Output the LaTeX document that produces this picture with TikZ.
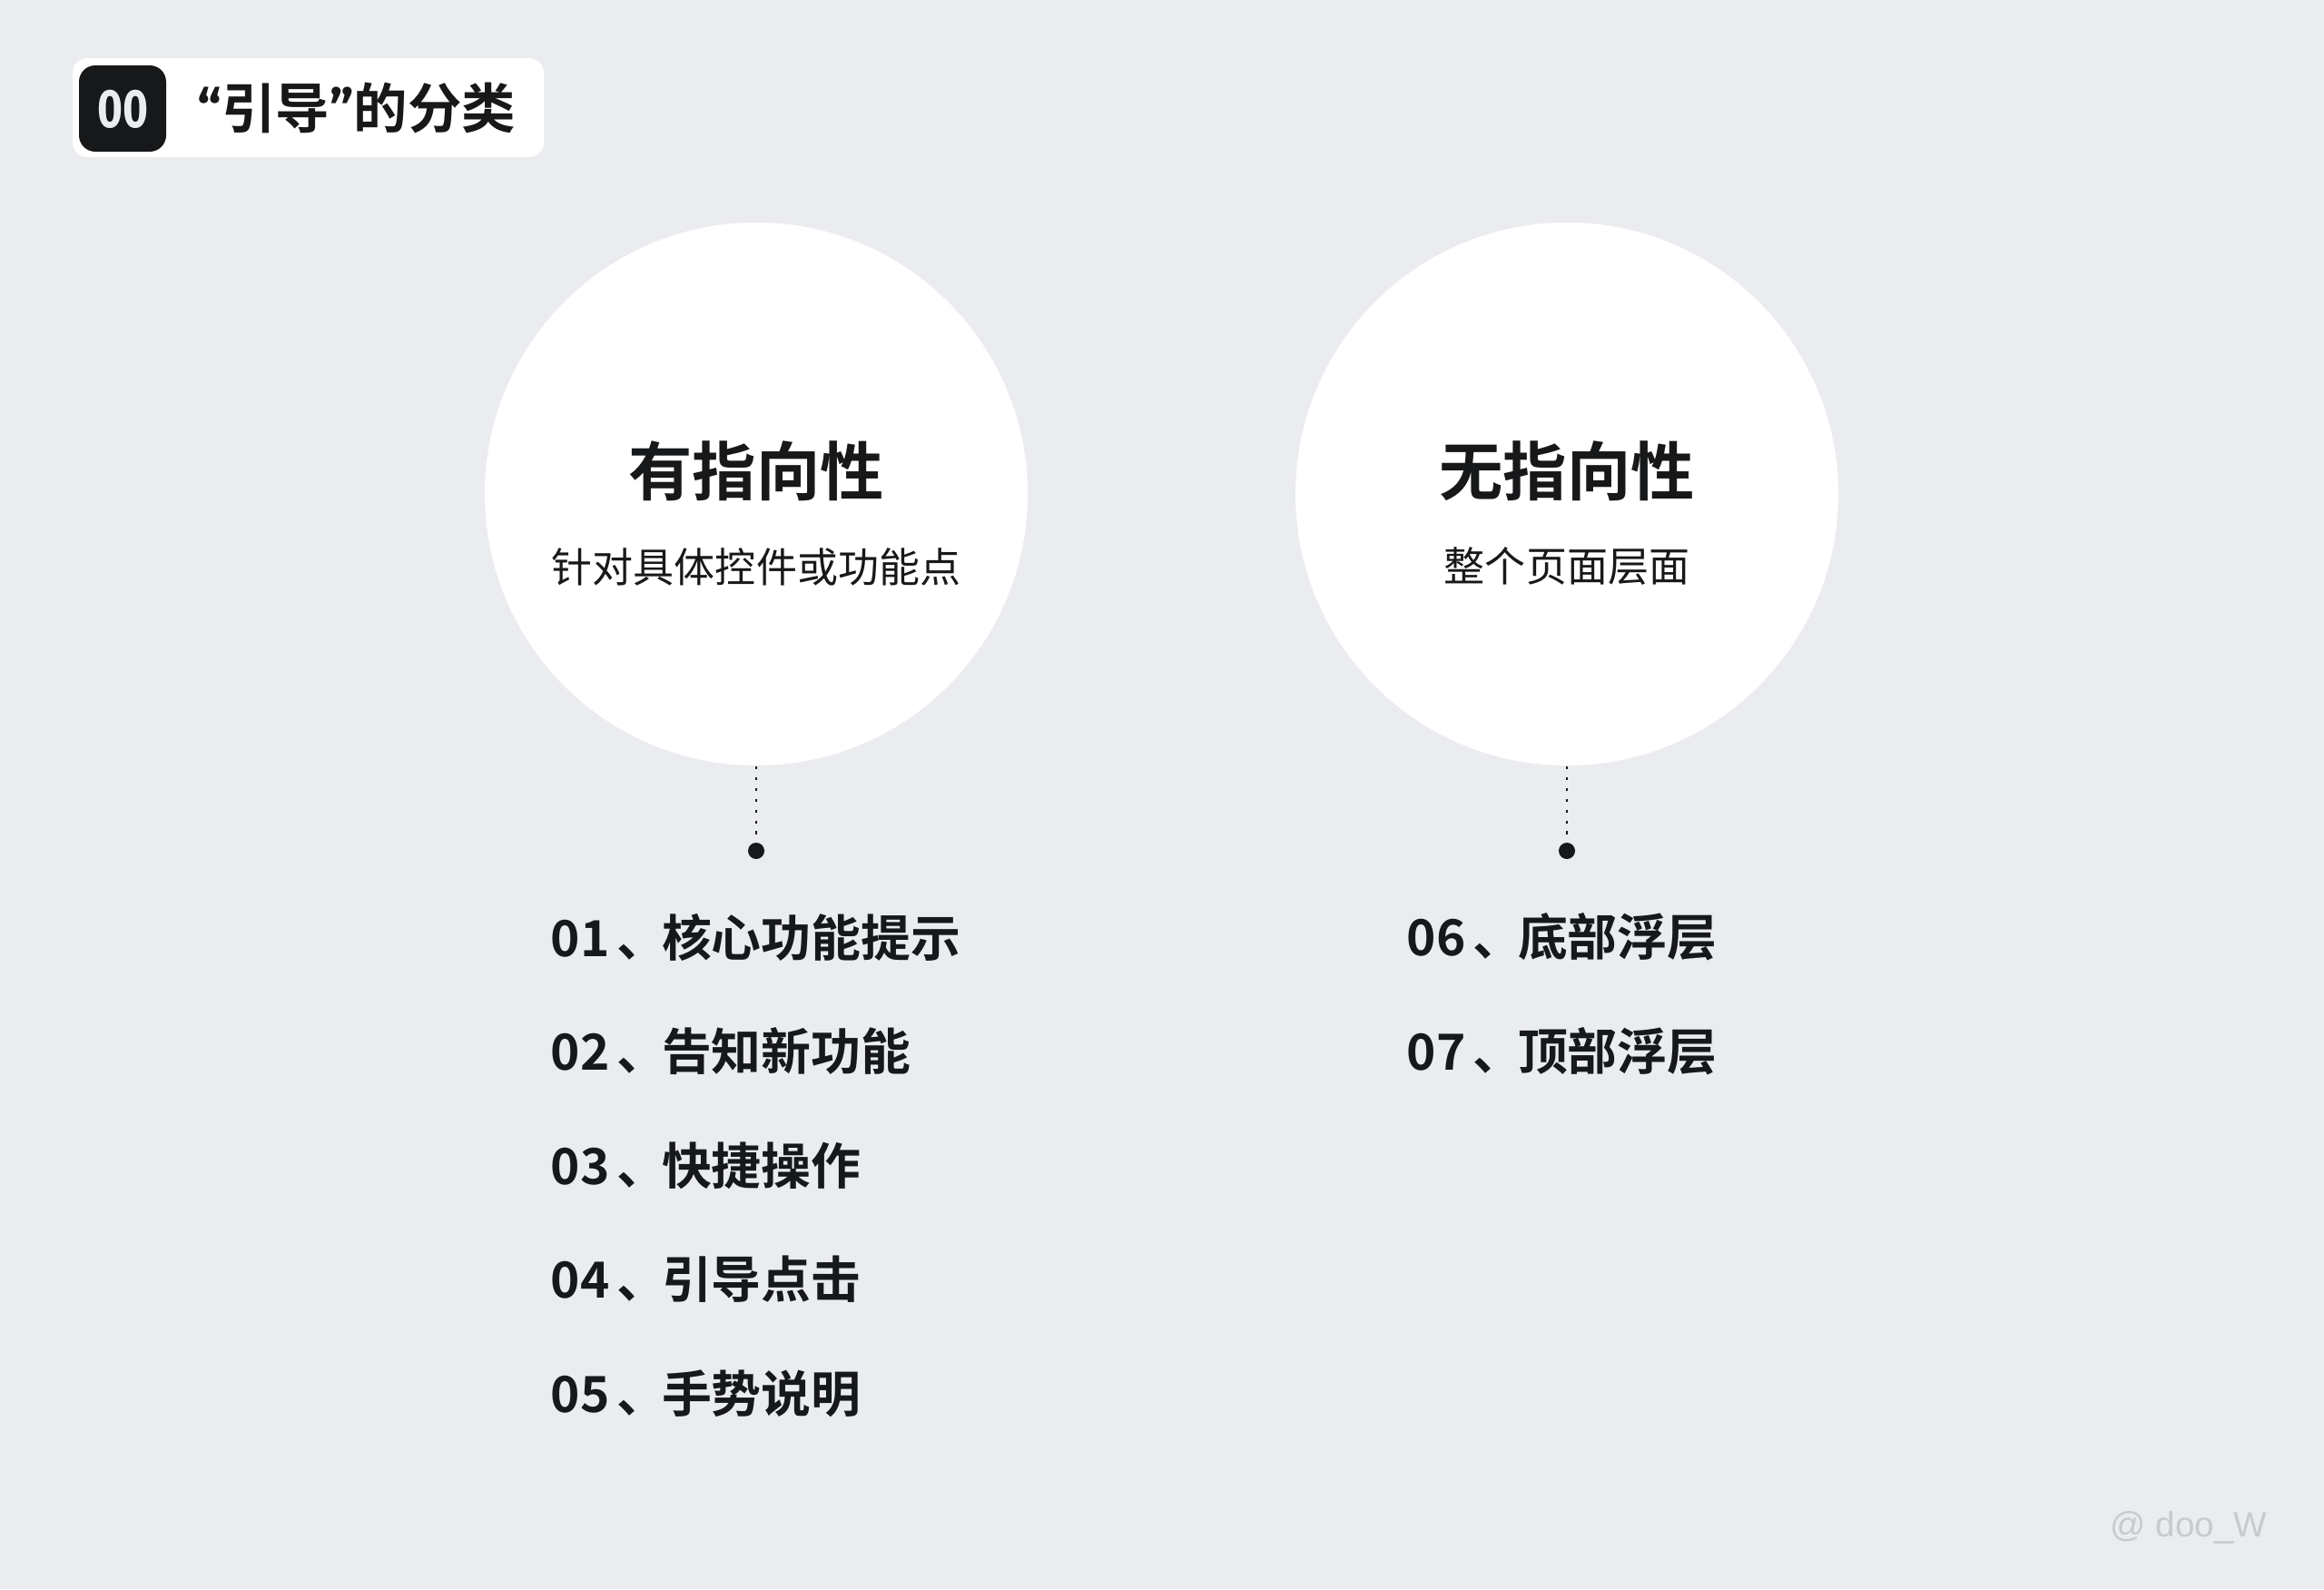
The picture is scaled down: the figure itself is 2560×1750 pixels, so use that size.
\documentclass[tikz,border=0pt]{standalone}
\usepackage{fontspec}
\usepackage{tikz}
\usetikzlibrary{positioning}
\newfontfamily\cjk{Noto Sans CJK SC}
\newfontfamily\cjkbold{Noto Sans CJK SC}[BoldFont={* Bold}]
\newfontfamily\numfont{Fira Sans}
\newfontfamily\markfont{Liberation Sans}
\definecolor{pagebg}{HTML}{EBECF0}
\definecolor{ink}{HTML}{17181A}
\definecolor{faint}{HTML}{C9CACF}
\newcommand{\openq}{{\numfont\bfseries “}}
\newcommand{\closeq}{{\numfont\bfseries ”}}
\tikzset{
  bubble/.style={circle, fill=white, minimum size=598*0.01cm, inner sep=0pt},
  headline/.style={font=\cjkbold\bfseries\fontsize{20}{24}\selectfont, text=ink},
  subline/.style={font=\cjk\fontsize{12.8}{15}\selectfont, text=ink},
  item/.style={font=\cjkbold\bfseries\fontsize{15.6}{19}\selectfont, text=ink, anchor=west, inner sep=0pt},
  pin/.style={circle, fill=ink, minimum size=18*0.01cm, inner sep=0pt},
  leader/.style={ink, line width=0.7pt, dash pattern=on 1pt off 2.4pt}
}
\begin{document}
\begin{tikzpicture}[x=0.01cm, y=-0.01cm, node distance=1.256cm, on grid]
  \fill[pagebg] (0,0) rectangle (2560,1750);
  \useasboundingbox (0,0) rectangle (2560,1750);
  % badge
  \fill[white, rounded corners=16*0.01cm] (80,64) rectangle (599,173);
  \fill[ink, rounded corners=18*0.01cm] (87,72) rectangle (183,167);
  \node[text=pagebg, font=\numfont\bfseries\fontsize{17}{20}\selectfont] (num) at (135,120) {\scalebox{0.8}[1]{00}};
  \node[anchor=west, inner sep=0pt, font=\cjkbold\bfseries\fontsize{16.9}{20}\selectfont, text=ink] (title) at (217,119) {\openq 引导\closeq 的分类};
  % circles
  \node[bubble] (left) at (833,544) {};
  \node[bubble] (right) at (1726,544) {};
  \node[headline] (lhead) at (833,519) {有指向性};
  \node[subline] (lsub) at (833,624) {针对具体控件或功能点};
  \node[headline] (rhead) at (1726,519) {无指向性};
  \node[subline] (rsub) at (1726,624) {整个页面层面};
  % pins
  \node[pin] (lpin) at (833,937) {};
  \node[pin] (rpin) at (1726,937) {};
  \draw[leader] (left.south) -- (lpin);
  \draw[leader] (right.south) -- (rpin);
  % lists
  \node[item] (i1) at (606,1032) {01\kern0.15em、\kern-0.1em核心功能提示};
  \node[item, below=of i1.west, anchor=west] (i2) {02\kern0.15em、\kern-0.1em告知新功能};
  \node[item, below=of i2.west, anchor=west] (i3) {03\kern0.15em、\kern-0.1em快捷操作};
  \node[item, below=of i3.west, anchor=west] (i4) {04\kern0.15em、\kern-0.1em引导点击};
  \node[item, below=of i4.west, anchor=west] (i5) {05\kern0.15em、\kern-0.1em手势说明};
  \node[item] (i6) at (1549,1032) {06\kern0.15em、\kern-0.1em底部浮层};
  \node[item, below=of i6.west, anchor=west] (i7) {07\kern0.15em、\kern-0.1em顶部浮层};
  % watermark
  \node[anchor=east, inner sep=0pt, text=faint, font=\markfont\fontsize{11}{13}\selectfont] (mark) at (2498,1682) {@ doo\_W};
\end{tikzpicture}
\end{document}
